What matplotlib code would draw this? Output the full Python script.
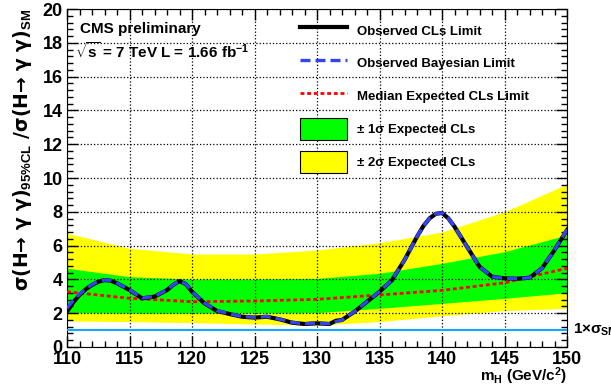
import numpy as np
import matplotlib.pyplot as plt
from matplotlib.ticker import MultipleLocator

plt.rcParams['font.family'] = ['Liberation Sans', 'DejaVu Sans']
plt.rcParams['font.weight'] = 'bold'
plt.rcParams['mathtext.fontset'] = 'custom'
plt.rcParams['mathtext.rm'] = 'Liberation Sans:bold'
plt.rcParams['mathtext.bf'] = 'Liberation Sans:bold'
plt.rcParams['mathtext.it'] = 'Liberation Sans:bold'

# observed limits (CLs and Bayesian)
mass_obs = [110, 110.5, 111, 111.5, 112, 112.5, 113, 113.5, 114, 115, 116, 117, 118, 118.5, 119, 119.5,
            120, 121, 122, 123, 124, 125, 126, 127, 128, 129, 130, 131, 131.5, 132, 133, 134, 135,
            136, 137, 138, 138.5, 139, 139.5, 140, 140.5, 141, 142, 143, 144, 145, 146, 147, 148, 149, 150]
obs_cls = [2.09, 2.65, 3.08, 3.42, 3.67, 3.86, 3.96, 3.92, 3.77, 3.37, 2.88, 2.98, 3.37, 3.68, 3.9, 3.72,
           3.27, 2.58, 2.13, 1.95, 1.79, 1.74, 1.79, 1.64, 1.44, 1.36, 1.4, 1.36, 1.55, 1.6, 2.09, 2.68, 3.27,
           3.96, 5.15, 6.53, 7.15, 7.61, 7.88, 7.93, 7.62, 7.12, 5.93, 4.75, 4.16, 4.06, 4.04, 4.1, 4.66, 5.74, 6.92]
obs_bayes = [2.3, 2.75, 3.12, 3.45, 3.69, 3.88, 3.97, 3.93, 3.78, 3.38, 2.9, 2.99, 3.38, 3.69, 3.9, 3.73,
             3.28, 2.6, 2.15, 1.96, 1.8, 1.76, 1.8, 1.65, 1.46, 1.38, 1.42, 1.38, 1.5, 1.6, 2.1, 2.69, 3.28,
             3.97, 5.15, 6.53, 7.15, 7.61, 7.88, 7.93, 7.62, 7.12, 5.93, 4.75, 4.16, 4.06, 4.04, 4.1, 4.66, 5.74, 6.95]

# expected limit and bands
mass_exp = [110, 115, 120, 125, 130, 135, 140, 145, 150]
exp_med = [3.27, 2.88, 2.68, 2.72, 2.82, 3.08, 3.35, 3.8, 4.66]
one_lo = [2.03, 2.0, 2.0, 2.0, 2.03, 2.29, 2.58, 2.88, 3.21]
one_hi = [4.66, 4.16, 4.02, 4.02, 4.06, 4.36, 4.95, 5.64, 6.63]
two_lo = [1.54, 1.5, 1.44, 1.36, 1.3, 1.5, 1.85, 2.15, 2.29]
two_hi = [6.73, 5.84, 5.5, 5.5, 5.74, 6.17, 6.8, 8.0, 9.64]

blue_ls = (0, (3, 1.5))
red_ls = (0, (1.4, 1.0))

fig = plt.figure(figsize=(6.11, 3.87), dpi=100)
ax = fig.add_axes([0.1097, 0.1034, 0.8183, 0.8733])

ax.fill_between(mass_exp, two_lo, two_hi, color='#ffff00', lw=0, zorder=1)
ax.fill_between(mass_exp, one_lo, one_hi, color='#00ff00', lw=0, zorder=2)
ax.axhline(1, color='#10a8ff', lw=1.5, zorder=3)
ax.plot(mass_exp, exp_med, color='red', lw=2, ls=red_ls, zorder=4)
ax.plot(mass_obs, obs_cls, color='black', lw=3, zorder=5)
ax.plot(mass_obs, obs_bayes, color='#3344ee', lw=2.4, ls=blue_ls, zorder=6)

ax.set_xlim(110, 150)
ax.set_ylim(0, 20)
ax.xaxis.set_major_locator(MultipleLocator(5))
ax.xaxis.set_minor_locator(MultipleLocator(1))
ax.yaxis.set_major_locator(MultipleLocator(2))
ax.yaxis.set_minor_locator(MultipleLocator(0.4))
ax.tick_params(which='both', direction='in', top=True, right=True, labelsize=13, width=1, pad=3)
ax.tick_params(which='major', length=8)
ax.tick_params(which='minor', length=4)
for lab in ax.get_xticklabels() + ax.get_yticklabels():
    lab.set_fontweight('bold')
ax.grid(True, which='major', color='black', ls=':', lw=0.9)
ax.set_axisbelow(False)

ax.set_xlabel(r'm$_{\mathrm{H}}$ (GeV/c$^{2}$)', fontsize=11, fontweight='bold', loc='right', labelpad=-2)
ax.set_ylabel('σ(H→ γ γ)$_{95\\%CL}$ /σ(H→ γ γ)$_{SM}$', family='DejaVu Sans',
              fontsize=13.5, fontweight='bold', loc='top', labelpad=6)

ax.text(0.025, 0.94, 'CMS preliminary', transform=ax.transAxes, fontsize=11, fontweight='bold', va='center')
ax.text(0.015, 0.875, r'$\sqrt{s}$ = 7 TeV L = 1.66 fb$^{-1}$', transform=ax.transAxes, fontsize=11,
        fontweight='bold', va='center')
ax.text(1.012, 1, r'1$\times\sigma_{SM}$', transform=ax.get_yaxis_transform(), fontsize=11,
        fontweight='bold', va='center', clip_on=False)

leg = ax.legend(handles=[
    plt.Line2D([], [], color='black', lw=3),
    plt.Line2D([], [], color='#3344ee', lw=2.4, ls=blue_ls),
    plt.Line2D([], [], color='red', lw=2, ls=red_ls),
    plt.Rectangle((0, 0), 1, 1, fc='#00ff00', ec='black', lw=0.8),
    plt.Rectangle((0, 0), 1, 1, fc='#ffff00', ec='black', lw=0.8)],
    labels=['Observed CLs Limit', 'Observed Bayesian Limit', 'Median Expected CLs Limit',
            '± 1σ Expected CLs', '± 2σ Expected CLs'],
    loc='upper left', bbox_to_anchor=(0.456, 0.985), frameon=False, prop={'size': 9.5, 'weight': 'bold'},
    handlelength=3.56, handleheight=2.2, labelspacing=0.82, handletextpad=0.75, borderaxespad=0)

fig.savefig('out.png', dpi=100)
